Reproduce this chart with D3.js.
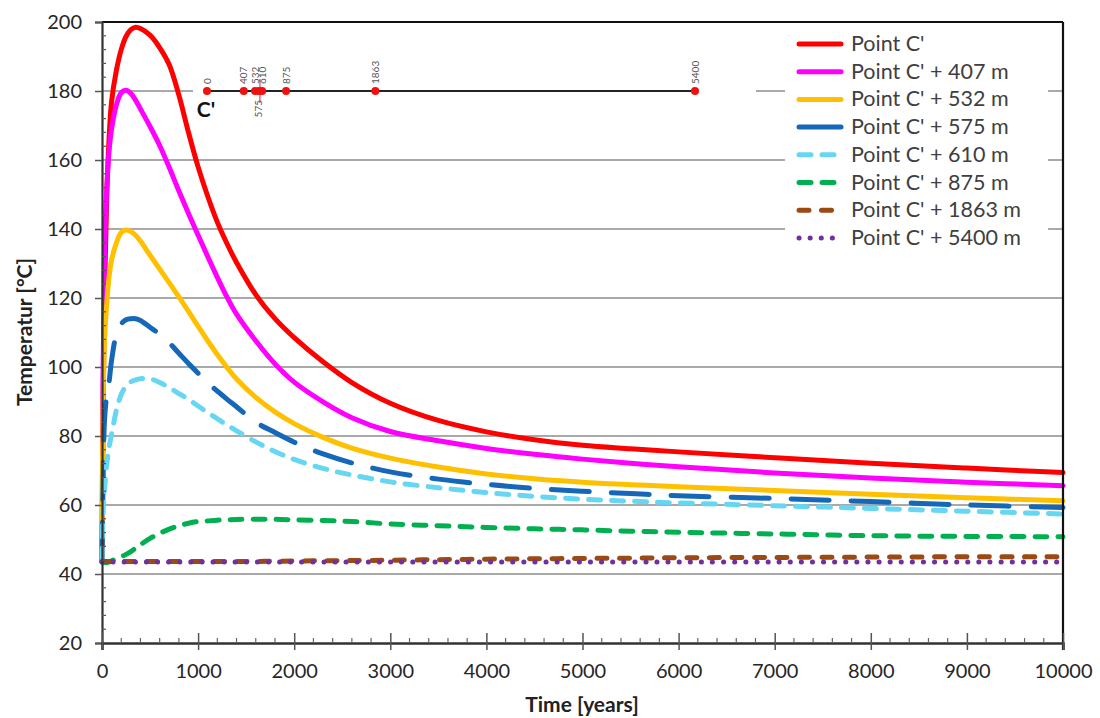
<!DOCTYPE html>
<html><head><meta charset="utf-8">
<script src="https://cdn.jsdelivr.net/npm/d3@7"></script>
<style>body{margin:0;background:#fff}svg{display:block}text{font-family:Lato,"Open Sans",sans-serif}</style>
</head><body><svg id="c" width="1100" height="718"></svg>
<script>
const times = [0,10,25,50,75,100,150,200,250,300,350,400,500,600,700,800,900,1000,1100,1200,1300,1400,1600,1800,2000,2300,2600,3000,3500,4000,4500,5000,5500,6000,7000,8000,9000,10000];
const seriesNames = ["Point C'","Point C' + 407 m","Point C' + 532 m","Point C' + 575 m","Point C' + 610 m","Point C' + 875 m","Point C' + 1863 m","Point C' + 5400 m"];
const tC    = [44,80,120,150,167,177,186,192,195.8,197.8,198.5,198.1,196.2,192.6,187.6,178.8,168,158,149.5,142,135.8,130.3,121,114,108.5,101.5,95.5,89.5,84.5,81.2,78.9,77.3,76.3,75.4,73.7,72.1,70.7,69.4];
const t407  = [44,95,130,152,163,169,176,179.5,180.2,179.3,177.3,174.8,169.7,164.2,157.8,151,144.5,138.2,132,126,120.3,115.3,107.6,100.9,95.6,89.9,85.3,81.3,78.6,76.4,74.7,73.3,72.1,71.1,69.3,67.8,66.6,65.6];
const t532  = [44,85,107,118.5,126.5,131,136,139,139.7,139.3,138.2,136.5,132.4,128.4,124.4,120.3,116.1,111.8,107.6,103.6,99.9,96.5,91.2,87,83.6,79.6,76.5,73.6,71,69,67.6,66.6,65.9,65.3,64.2,63.1,62.1,61.2];
const t575  = [44,64,84,92,96,102,109.5,112.5,113.7,114,114,113.5,111.5,109.5,107,104,101,98.2,95.5,93,90.7,88.5,84,81,78.2,74.8,72.2,69.6,67.5,66,64.8,64,63.3,62.7,61.9,61,60,59.3];
const t610  = [44,57,64,72,77,80.5,87.5,92,94.5,95.7,96.3,96.6,96.6,95.5,94,92.3,90.6,88.7,86.8,85,83.2,81.5,78.3,75.5,73.2,70.6,68.7,66.7,65,63.6,62.5,61.7,61.1,60.6,59.8,59,58.2,57.4];
const t875  = [43.5,43.4,43.3,43.3,43.5,43.8,44.4,45,45.7,46.5,47.5,48.5,50.3,51.8,53,54,54.7,55.2,55.4,55.6,55.7,55.8,55.9,55.85,55.7,55.5,55.2,54.5,54,53.5,53.1,52.8,52.4,52.1,51.6,51.1,50.9,50.8];
const t1863 = [43.6,43.6,43.6,43.6,43.6,43.6,43.6,43.6,43.6,43.6,43.6,43.6,43.6,43.6,43.6,43.6,43.6,43.6,43.6,43.6,43.6,43.62,43.65,43.7,43.75,43.85,43.9,44,44.15,44.3,44.4,44.5,44.6,44.7,44.8,44.9,45,45];
const t5400 = [43.5,43.5,43.5,43.5,43.5,43.5,43.5,43.5,43.5,43.5,43.5,43.5,43.5,43.5,43.5,43.5,43.5,43.5,43.5,43.5,43.5,43.5,43.5,43.5,43.5,43.5,43.5,43.5,43.5,43.5,43.5,43.5,43.5,43.5,43.5,43.5,43.5,43.5];
const xTicks = [0,1000,2000,3000,4000,5000,6000,7000,8000,9000,10000];
const yTicks = [20,40,60,80,100,120,140,160,180,200];
const insetDist = [0,407,532,575,610,875,1863,5400];
const insetLabels = ["0","407","532","575","610","875","1863","5400"];

const colors = ["#ff0000","#ff00ff","#ffc000","#1568b8","#66d6f2","#00b050","#9a4a12","#7030a0"];
const dashes = [null,null,null,"38,22","12,11","12,11","10,12.5","0.1,11"];
const allSeries = [tC,t407,t532,t575,t610,t875,t1863,t5400];

const svg = d3.select("#c");
const L=102,R=1063,T=22,B=643;
const x = d3.scaleLinear().domain([0,10000]).range([L,R]);
const y = d3.scaleLinear().domain([20,200]).range([B,T]);

// gridlines
const grid = svg.append("g");
yTicks.filter(v=>v>20 && v<200).forEach(v=>{
  grid.append("line").attr("x1",L).attr("x2",R).attr("y1",y(v)).attr("y2",y(v))
    .attr("stroke","#8c8c8c").attr("stroke-width",1.6);
});

// series
const line = d3.line().x((d,i)=>x(times[i])).y(d=>y(d)).curve(d3.curveCatmullRom.alpha(0.5));
allSeries.forEach((s,k)=>{
  svg.append("path").attr("d",line(s)).attr("fill","none")
    .attr("stroke",colors[k]).attr("stroke-width",5)
    .attr("stroke-linecap","round").attr("stroke-linejoin","round")
    .attr("stroke-dasharray",dashes[k]);
});

// inset (white panel)
const xi = d3.scaleLinear().domain([0,5400]).range([207,695]);
const iy = y(180);
svg.append("rect").attr("x",193).attr("y",55).attr("width",563).attr("height",75).attr("fill","#fff");
svg.append("line").attr("x1",xi(0)).attr("x2",xi(5400)).attr("y1",iy).attr("y2",iy).attr("stroke","#222").attr("stroke-width",2.2);
svg.append("line").attr("x1",xi(575)+1).attr("x2",xi(575)+1).attr("y1",iy-12).attr("y2",iy+12).attr("stroke","#e0203a").attr("stroke-width",1);
insetDist.forEach((d,i)=>{
  svg.append("circle").attr("cx",xi(d)).attr("cy",iy).attr("r",4).attr("fill","#f01010");
  const below = insetLabels[i]==="575";
  svg.append("text").attr("transform",`translate(${xi(d)+3.5},${below?iy+9:iy-7}) rotate(-90)`)
    .attr("text-anchor",below?"end":"start").attr("font-size",10).attr("fill","#555").text(insetLabels[i]);
});
svg.append("text").attr("x",206).attr("y",117).attr("text-anchor","middle").attr("font-size",21).attr("font-weight","bold").attr("fill","#111").text("C'");

// axes frame
svg.append("line").attr("x1",L).attr("x2",R).attr("y1",T).attr("y2",T).attr("stroke","#111").attr("stroke-width",2);
svg.append("line").attr("x1",R).attr("x2",R).attr("y1",T).attr("y2",B+7).attr("stroke","#111").attr("stroke-width",2.2);

const yAxis = d3.axisLeft(y).tickValues(yTicks).tickSize(7).tickPadding(13);
const gy = svg.append("g").attr("transform",`translate(${L},0)`).call(yAxis);
gy.select(".domain").attr("stroke","#333").attr("stroke-width",2.2);
gy.selectAll(".tick line").attr("stroke","#555").attr("stroke-width",1.5);
gy.selectAll("text").attr("font-size",20).attr("fill","#262626").attr("font-family","Lato");
const yMinor = d3.range(20,200,4).filter(v=>v%20!==0);
svg.append("g").selectAll("line").data(yMinor).join("line")
  .attr("x1",L).attr("x2",L+4).attr("y1",d=>y(d)).attr("y2",d=>y(d)).attr("stroke","#555").attr("stroke-width",1.2);

const xAxis = d3.axisBottom(x).tickValues(xTicks).tickFormat(d3.format("d")).tickSize(7).tickPadding(14);
const gx = svg.append("g").attr("transform",`translate(0,${B})`).call(xAxis);
gx.select(".domain").attr("stroke","#333").attr("stroke-width",2.6);
gx.selectAll(".tick line").attr("stroke","#555").attr("stroke-width",1.5).attr("y1",-10);
gx.selectAll("text").attr("font-size",20).attr("fill","#262626").attr("font-family","Lato");
const xMinor = d3.range(200,10000,200).filter(v=>v%1000!==0);
svg.append("g").selectAll("line").data(xMinor).join("line")
  .attr("x1",d=>x(d)).attr("x2",d=>x(d)).attr("y1",B).attr("y2",B-5).attr("stroke","#666").attr("stroke-width",1.2);

// axis titles
svg.append("text").attr("x",582).attr("y",712).attr("text-anchor","middle").attr("font-size",21).attr("font-weight","bold").attr("fill","#222").text("Time [years]");
svg.append("text").attr("transform","translate(32,332) rotate(-90)").attr("text-anchor","middle").attr("font-size",21).attr("font-weight","bold").attr("fill","#222").text("Temperatur [°C]");

// legend
const lg = svg.append("g");
lg.append("rect").attr("x",785).attr("y",T+1.5).attr("width",263).attr("height",230).attr("fill","#fff");
seriesNames.forEach((n,k)=>{
  const ly = 44 + k*27.7;
  lg.append("line").attr("x1",799).attr("x2",841).attr("y1",ly).attr("y2",ly)
    .attr("stroke",colors[k]).attr("stroke-width",5).attr("stroke-linecap","round")
    .attr("stroke-dasharray",dashes[k]==null?null:(k===3?"60,0":dashes[k]));
  lg.append("text").attr("x",851).attr("y",ly+7).attr("font-size",21.5).attr("fill","#404040").text(n);
});
</script></body></html>
